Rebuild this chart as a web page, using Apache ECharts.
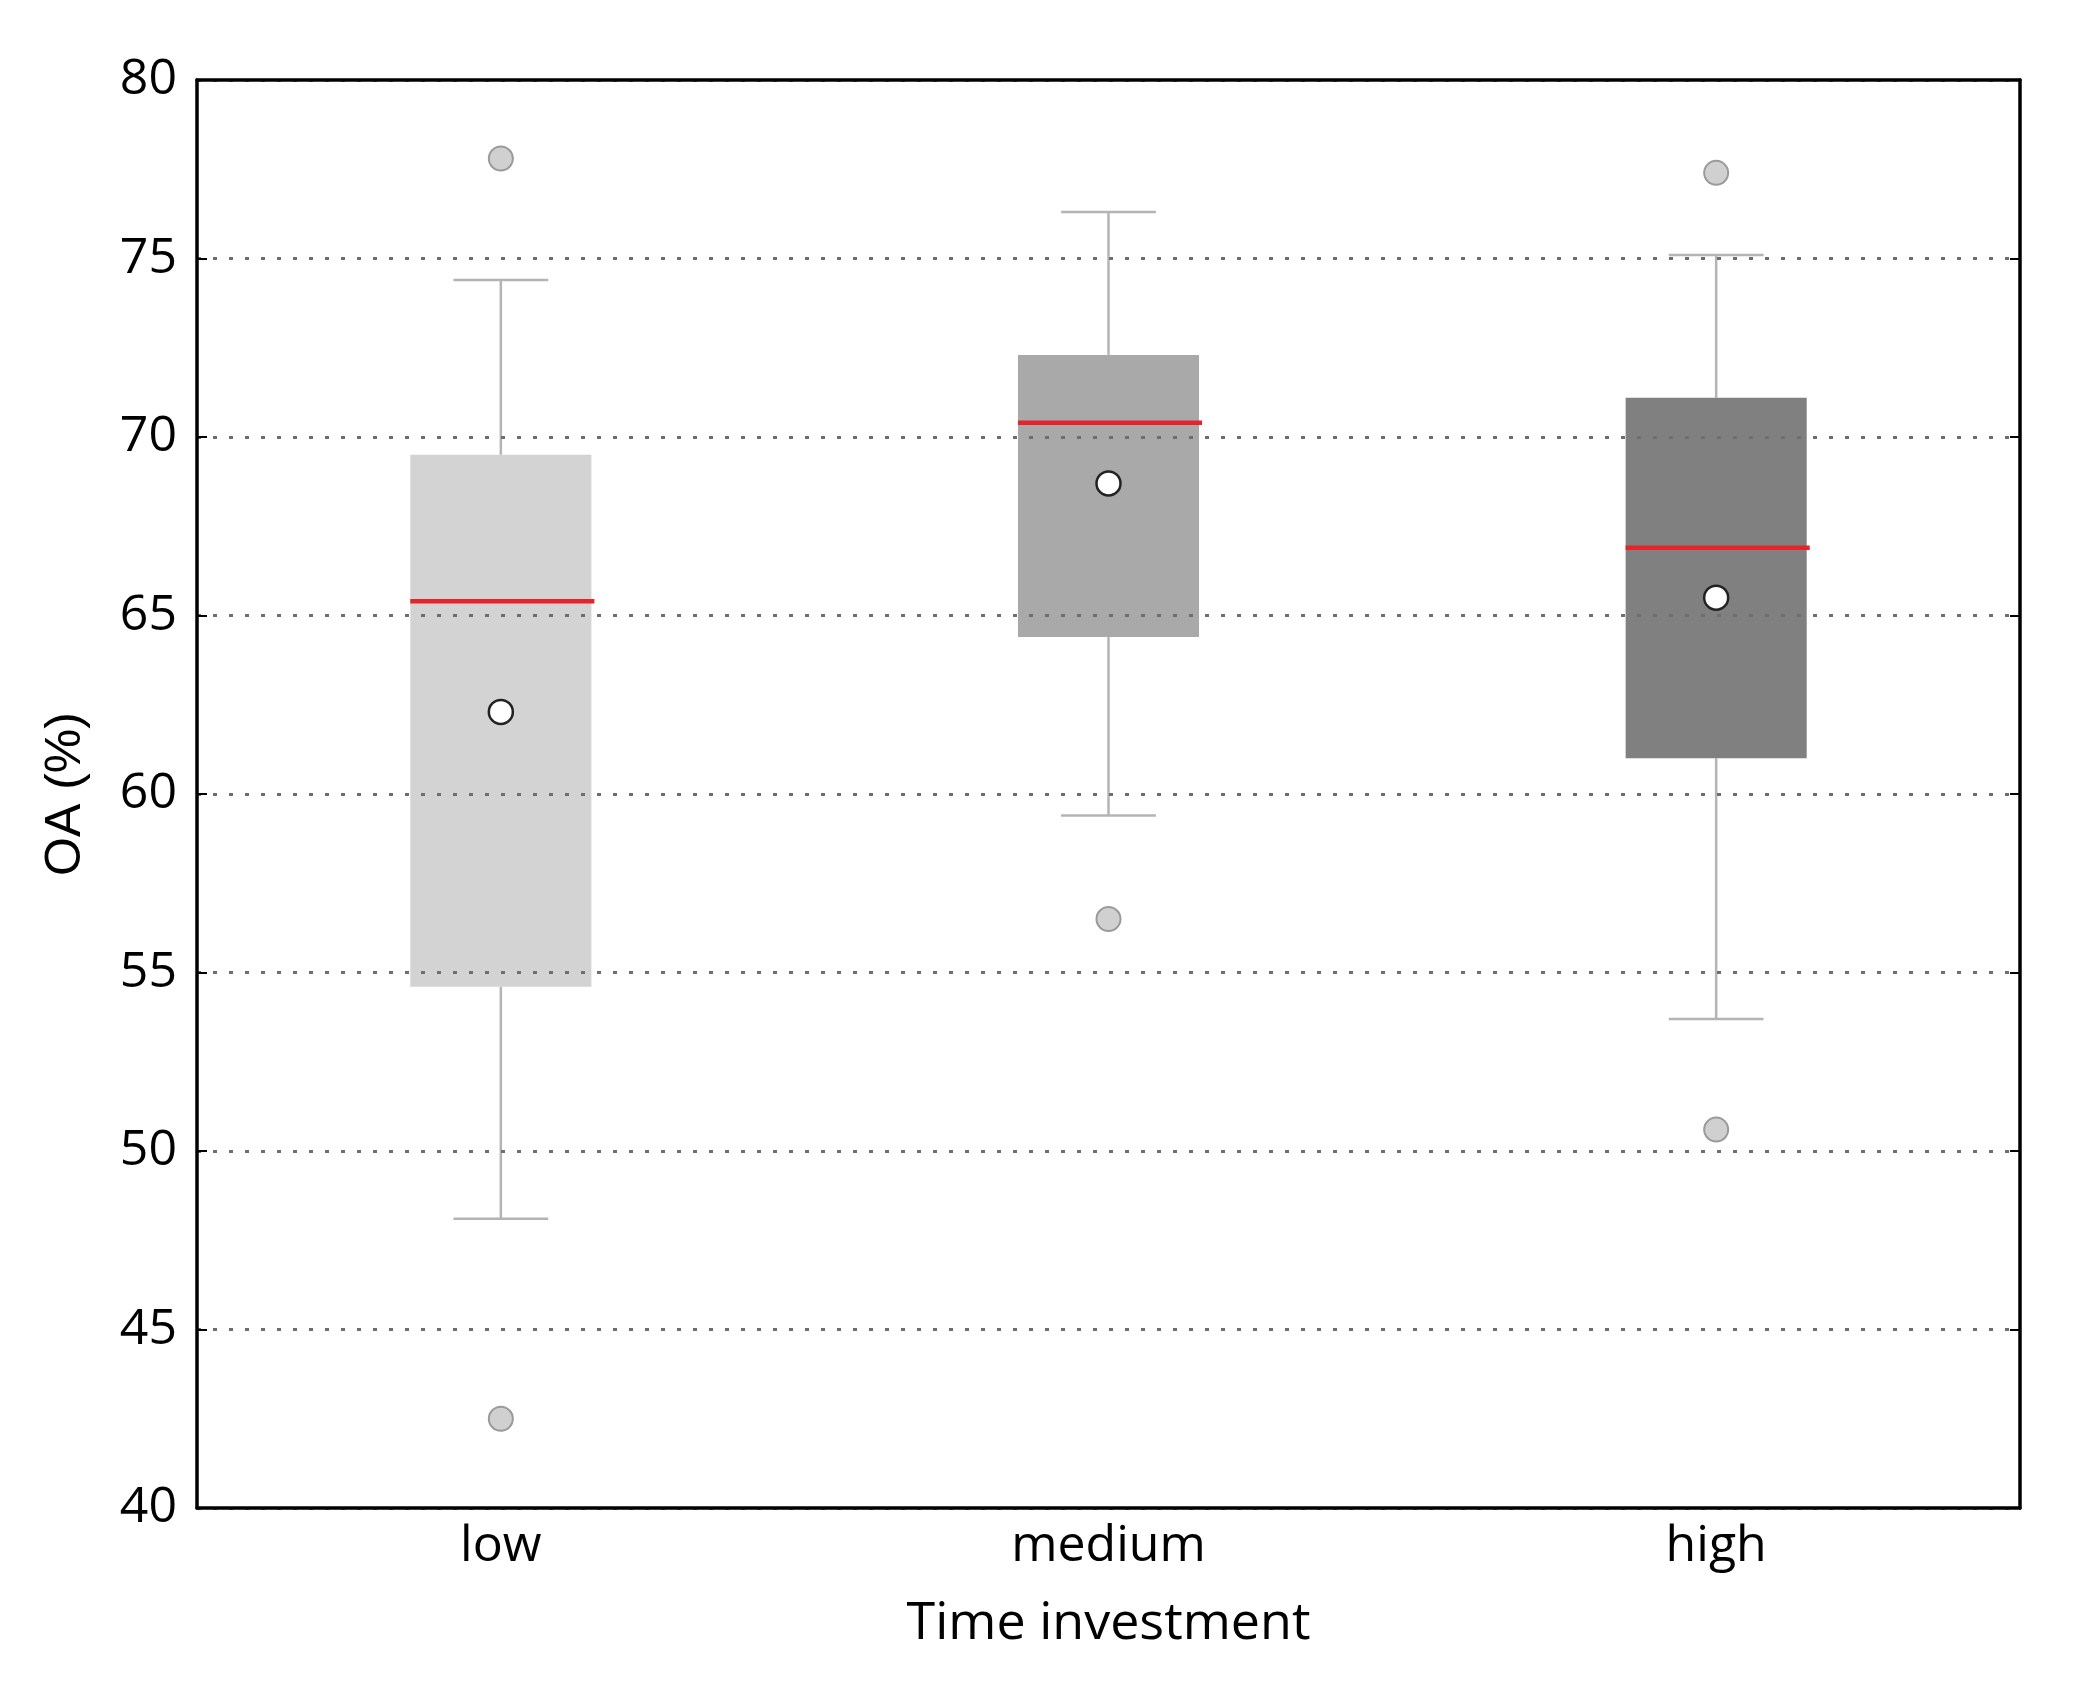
<!DOCTYPE html>
<html>
<head>
<meta charset="utf-8">
<script src="https://cdn.jsdelivr.net/npm/echarts@6/dist/echarts.min.js"></script>
<style>
  html, body { margin: 0; padding: 0; background: #fff; }
  #chart { width: 2073px; height: 1682px; }
</style>
</head>
<body>
<div id="chart"></div>
<script>
// Data
const categories = ['low', 'medium', 'high'];
const whiskerLow = [48.1, 59.4, 53.7];
const q1 = [54.6, 64.4, 61.0];
const median = [65.4, 70.4, 66.9];
const q3 = [69.5, 72.3, 71.1];
const whiskerHigh = [74.4, 76.3, 75.1];
const means = [62.3, 68.7, 65.5];
const outlierCategory = ['low', 'low', 'medium', 'high', 'high'];
const outlierValue = [77.8, 42.5, 56.5, 77.4, 50.6];

const boxColors = ['#d3d3d3', '#a9a9a9', '#808080'];

function drawChart() {
    let chart = echarts.init(document.getElementById('chart'));

    let boxData = categories.map((c, i) => [i, whiskerLow[i], q1[i], median[i], q3[i], whiskerHigh[i]]);
    let meanData = categories.map((c, i) => [c, means[i]]);
    let outlierData = outlierCategory.map((c, i) => [c, outlierValue[i]]);

    function renderBox(params, api) {
        let idx = api.value(0);
        let band = api.size([1, 0])[0];
        let boxHalf = band * 0.149;
        let capHalf = band * 0.078;
        let pLow = api.coord([idx, api.value(1)]);
        let pQ1 = api.coord([idx, api.value(2)]);
        let pMed = api.coord([idx, api.value(3)]);
        let pQ3 = api.coord([idx, api.value(4)]);
        let pHigh = api.coord([idx, api.value(5)]);
        let x = pQ1[0];
        let whisker = { stroke: '#b4b4b4', lineWidth: 2.5 };
        return {
            type: 'group',
            children: [
                { type: 'line', shape: { x1: x, y1: pQ3[1], x2: x, y2: pHigh[1] }, style: whisker },
                { type: 'line', shape: { x1: x, y1: pQ1[1], x2: x, y2: pLow[1] }, style: whisker },
                { type: 'line', shape: { x1: x - capHalf, y1: pHigh[1], x2: x + capHalf, y2: pHigh[1] }, style: whisker },
                { type: 'line', shape: { x1: x - capHalf, y1: pLow[1], x2: x + capHalf, y2: pLow[1] }, style: whisker },
                {
                    type: 'rect',
                    shape: { x: x - boxHalf, y: pQ3[1], width: boxHalf * 2, height: pQ1[1] - pQ3[1] },
                    style: { fill: boxColors[params.dataIndex] }
                },
                {
                    type: 'line',
                    shape: { x1: x - boxHalf, y1: pMed[1], x2: x + boxHalf + 3, y2: pMed[1] },
                    style: { stroke: '#e3242b', lineWidth: 4.5 }
                }
            ]
        };
    }

    let tickFont = { fontFamily: 'Open Sans', fontSize: 50, color: '#000' };

    let option = {
        animation: false,
        backgroundColor: '#fff',
        grid: { left: 197, right: 53, top: 80, bottom: 174 },
        xAxis: [
            {
                type: 'category',
                data: categories,
                position: 'bottom',
                z: 5,
                name: 'Time investment',
                nameLocation: 'middle',
                nameGap: 90,
                nameTextStyle: { fontFamily: 'Open Sans', fontSize: 52, color: '#000' },
                axisLine: { lineStyle: { color: '#000', width: 3.5 } },
                axisTick: { inside: true, alignWithLabel: true, length: 10, lineStyle: { color: '#000', width: 2 } },
                axisLabel: Object.assign({ margin: 14 }, tickFont),
                splitLine: { show: false }
            },
            {
                type: 'category',
                data: categories,
                position: 'top',
                z: 5,
                axisLine: { lineStyle: { color: '#000', width: 3.5 } },
                axisTick: { inside: true, alignWithLabel: true, length: 10, lineStyle: { color: '#000', width: 2 } },
                axisLabel: { show: false },
                splitLine: { show: false }
            }
        ],
        yAxis: [
            {
                type: 'value',
                min: 40,
                max: 80,
                interval: 5,
                position: 'left',
                z: 5,
                name: 'OA (%)',
                nameLocation: 'middle',
                nameGap: 106,
                nameRotate: 90,
                nameTextStyle: { fontFamily: 'Liberation Sans', fontSize: 50, color: '#000' },
                axisLine: { show: true, lineStyle: { color: '#000', width: 3.5 } },
                axisTick: { show: true, inside: true, length: 10, lineStyle: { color: '#000', width: 2 } },
                axisLabel: Object.assign({ margin: 20 }, tickFont),
                splitLine: { show: true, lineStyle: { color: '#6e6e6e', width: 3, type: [4, 12] } }
            },
            {
                type: 'value',
                min: 40,
                max: 80,
                interval: 5,
                position: 'right',
                z: 5,
                axisLine: { show: true, lineStyle: { color: '#000', width: 3.5 } },
                axisTick: { show: true, inside: true, length: 10, lineStyle: { color: '#000', width: 2 } },
                axisLabel: { show: false },
                splitLine: { show: false }
            }
        ],
        series: [
            {
                type: 'custom',
                name: 'boxes',
                xAxisIndex: 0,
                yAxisIndex: 0,
                z: 2,
                renderItem: renderBox,
                encode: { x: 0, y: [1, 2, 3, 4, 5] },
                data: boxData
            },
            {
                type: 'scatter',
                name: 'mean',
                xAxisIndex: 0,
                yAxisIndex: 0,
                z: 10,
                symbol: 'circle',
                symbolSize: 24,
                itemStyle: { color: '#ffffff', borderColor: '#222', borderWidth: 2.5, opacity: 1 },
                data: meanData
            },
            {
                type: 'scatter',
                name: 'outliers',
                xAxisIndex: 0,
                yAxisIndex: 0,
                z: 10,
                symbol: 'circle',
                symbolSize: 24,
                itemStyle: { color: '#d0d0d0', borderColor: '#9a9a9a', borderWidth: 2, opacity: 1 },
                data: outlierData
            }
        ]
    };

    chart.setOption(option);
}

window.addEventListener('load', drawChart);
</script>
</body>
</html>
